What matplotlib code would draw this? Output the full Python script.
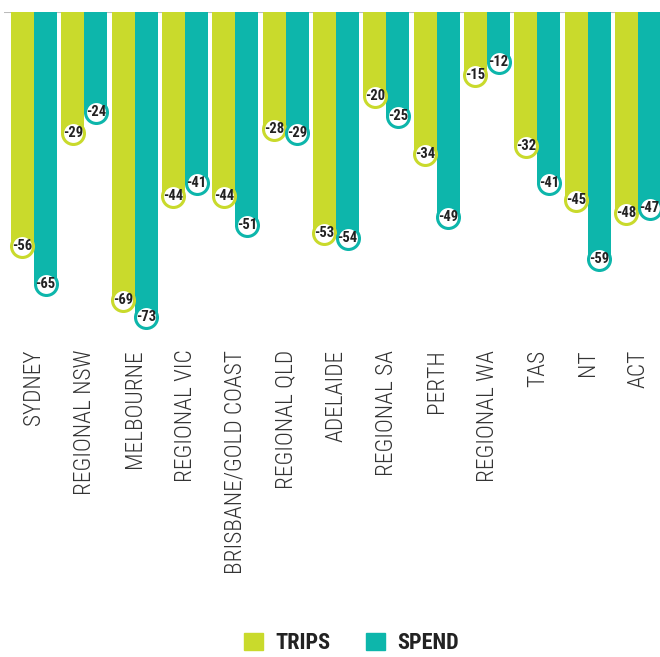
import numpy as np
import matplotlib.pyplot as plt
from matplotlib.patches import Patch

# Data (% change)
regions = ['SYDNEY', 'REGIONAL NSW', 'MELBOURNE', 'REGIONAL VIC', 'BRISBANE/GOLD COAST',
           'REGIONAL QLD', 'ADELAIDE', 'REGIONAL SA', 'PERTH', 'REGIONAL WA', 'TAS', 'NT', 'ACT']
trips = [-56, -29, -69, -44, -44, -28, -53, -20, -34, -15, -32, -45, -48]
spend = [-65, -24, -73, -41, -51, -29, -54, -25, -49, -12, -41, -59, -47]

trips_col = '#C9DA2C'
spend_col = '#0DB6AB'
text_col = '#333333'
font = 'Roboto Condensed'

fig = plt.figure(figsize=(6.6, 6.57), dpi=100)
ax = fig.add_axes([4 / 660, 0.4825, 1 - 4 / 660, 0.9817 - 0.4825])

x = np.arange(len(regions))
w = 0.46
ax.bar(x - w / 2, trips, width=w, color=trips_col, zorder=2)
ax.bar(x + w / 2, spend, width=w, color=spend_col, zorder=2)

# value bubbles at bar ends
for xs, vals, col in [(x - w / 2, trips, trips_col), (x + w / 2, spend, spend_col)]:
    ax.scatter(xs, vals, s=250, facecolor='white', edgecolor=col, linewidth=2.2,
               zorder=3, clip_on=False)
    for xi, v in zip(xs, vals):
        ax.text(xi, v, str(v), ha='center', va='center', fontsize=10.5,
                fontweight='bold', family=font, color='#222222', zorder=4)

ax.axhline(0, color='#bbbbbb', lw=1.5, zorder=1)

ax.set_xlim(-0.596, 12.437)
ax.set_ylim(-78.5, 0)
ax.set_yticks([])
ax.set_xticks(x)
ax.set_xticklabels(regions, rotation=90, va='top', ha='center', fontsize=16.8,
                   family=font, fontweight='light', color=text_col)
ax.tick_params(axis='x', length=0, pad=7)
for s in ax.spines.values():
    s.set_visible(False)

handles = [Patch(color=trips_col, label='TRIPS'), Patch(color=spend_col, label='SPEND')]
fig.legend(handles=handles, loc='center', bbox_to_anchor=(0.532, 0.021), ncol=2,
           frameon=False, handlelength=0.85, handleheight=0.85, handletextpad=0.55,
           columnspacing=1.6, borderpad=0,
           prop={'family': font, 'weight': 'bold', 'size': 16},
           labelcolor='#222222')

fig.savefig('out.png', dpi=100)
